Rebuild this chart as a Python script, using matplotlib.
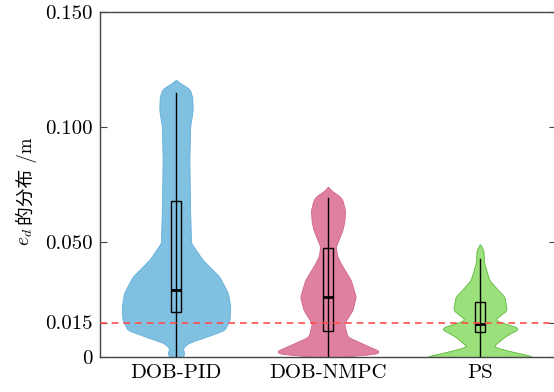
import numpy as np
import matplotlib.pyplot as plt
from matplotlib.patches import Rectangle

plt.rcParams['font.family'] = ['cmr10', 'Noto Sans CJK SC']
plt.rcParams['mathtext.fontset'] = 'cm'
plt.rcParams['axes.unicode_minus'] = False

# Categorías
labels = ['DOB-PID', 'DOB-NMPC', 'PS']
face_colors = ['#80c0e0', '#e0809f', '#9be07b']
edge_colors = ['#62b0da', '#cf668a', '#5cb83a']

# Perfil de densidad de cada violín: nivel de e_d y semiancho
pid_y = [0.1205, 0.119, 0.1165, 0.113, 0.1074, 0.1001, 0.0857, 0.0639, 0.0496,
         0.0422, 0.0349, 0.0278, 0.0219, 0.0161, 0.0117, 0.0088, 0.0060, 0.0038,
         0.0016, 0.0]
pid_w = [0.0, 0.03, 0.09, 0.107, 0.11, 0.093, 0.088, 0.093, 0.099,
         0.176, 0.286, 0.342, 0.357, 0.352, 0.319, 0.198, 0.077, 0.044,
         0.055, 0.044]

nmpc_y = [0.0740, 0.0720, 0.0700, 0.0683, 0.0639, 0.0590, 0.0552, 0.0510, 0.0480,
          0.0440, 0.0407, 0.0335, 0.0262, 0.0204, 0.0146, 0.0088, 0.0052, 0.0023,
          0.0009, 0.0]
nmpc_w = [0.0, 0.03, 0.075, 0.095, 0.112, 0.108, 0.095, 0.07, 0.051,
          0.06, 0.084, 0.15, 0.183, 0.161, 0.106, 0.128, 0.249, 0.348,
          0.29, 0.02]

ps_y = [0.0491, 0.0480, 0.0465, 0.0407, 0.0335, 0.0290, 0.0262, 0.0204, 0.0161,
        0.0125, 0.0088, 0.0045, 0.0019, 0.0004, 0.0]
ps_w = [0.0, 0.01, 0.022, 0.028, 0.061, 0.12, 0.161, 0.176, 0.095,
        0.26, 0.161, 0.084, 0.238, 0.348, 0.35]

# Estadísticos del diagrama de caja: q1, mediana, q3, bigote inferior y superior
q1 = [0.0197, 0.0114, 0.0107]
median = [0.0291, 0.0259, 0.0143]
q3 = [0.0680, 0.0472, 0.0238]
whisker_lo = [0.0, 0.0, 0.0]
whisker_hi = [0.1147, 0.0690, 0.0425]

umbral = 0.015


def contorno_suave(yy, ww, paso=0.0002, ventana=9):
    # remuestrea el perfil y lo suaviza con media móvil para que el borde no quede quebrado
    yy = np.asarray(yy)[::-1]
    ww = np.asarray(ww)[::-1]
    yf = np.arange(yy[0], yy[-1] + paso / 2, paso)
    wf = np.interp(yf, yy, ww)
    pad = ventana // 2
    wp = np.pad(wf, pad, mode='edge')
    ws = np.convolve(wp, np.ones(ventana) / ventana, mode='valid')
    ws[-1] = 0.0
    return yf, ws


fig = plt.figure(figsize=(5.54, 3.92), dpi=100)
ax = fig.add_axes([100 / 554, 35 / 392, 456 / 554, 345 / 392])

perfiles = [(pid_y, pid_w), (nmpc_y, nmpc_w), (ps_y, ps_w)]
for i, (yy, ww) in enumerate(perfiles):
    pos = i + 1
    ys, ws = contorno_suave(yy, ww)
    ax.fill_betweenx(ys, pos - ws, pos + ws, facecolor=face_colors[i],
                     edgecolor=edge_colors[i], linewidth=0.6, zorder=1)
    # bigotes
    ax.plot([pos, pos], [whisker_lo[i], whisker_hi[i]], color='black', lw=1, zorder=3)
    # caja
    bw = 0.07
    ax.add_patch(Rectangle((pos - bw / 2, q1[i]), bw, q3[i] - q1[i], facecolor='none',
                           edgecolor='black', lw=1, zorder=3))
    ax.plot([pos - bw / 2, pos + bw / 2], [median[i], median[i]], color='black',
            lw=2, zorder=3, solid_capstyle='butt')

# Línea de referencia
ax.axhline(umbral, color='#ff4d4d', lw=1.2, ls=(0, (4, 3)), zorder=4)

ax.set_xlim(0.5, 3.5)
ax.set_ylim(0, 0.15)
ax.set_xticks([1, 2, 3])
ax.set_xticklabels(labels)
ax.set_yticks([0, 0.015, 0.05, 0.1, 0.15])
ax.set_yticklabels(['0', '0.015', '0.050', '0.100', '0.150'])
ax.tick_params(axis='x', length=0, labelsize=15, pad=5)
ax.tick_params(axis='y', direction='in', length=5, right=True, labelsize=15,
               width=0.8, color='#444444', pad=5)
for s in ax.spines.values():
    s.set_color('#444444')
    s.set_linewidth(1)

# Etiqueta del eje y: e_d en mathtext y el resto con fuente CJK
fig.text(26 / 554, 1 - 246 / 392, r'$e_d$', rotation=90, ha='center', va='bottom',
         fontsize=14)
fig.text(26 / 554, 1 - 225 / 392, '的分布 /m', rotation=90, ha='center', va='bottom',
         fontsize=13.5, family=['cmr10', 'Noto Sans CJK SC'])

fig.savefig('out.png', dpi=100)
